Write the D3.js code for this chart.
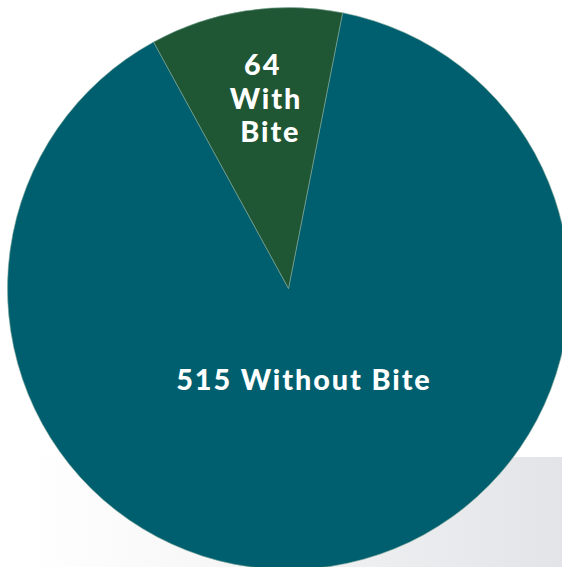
<!DOCTYPE html>
<html><head><meta charset="utf-8">
<script src="https://cdn.jsdelivr.net/npm/d3@7"></script>
<style>html,body{margin:0;padding:0;background:#fff;}svg{display:block;}</style>
</head><body>
<svg id="c" width="562" height="567"></svg>
<script>
const categories = ["Without Bite", "With Bite"];
const values = [515, 64];
const colors = ["#005f6e", "#1f5633"];

const svg = d3.select("#c");
const defs = svg.append("defs");
const g = defs.append("linearGradient").attr("id","bg").attr("x1","0").attr("x2","1").attr("y1","0").attr("y2","0");
g.append("stop").attr("offset","0").attr("stop-color","#ffffff");
g.append("stop").attr("offset","0.35").attr("stop-color","#f7f7f8");
g.append("stop").attr("offset","1").attr("stop-color","#e2e4e7");
svg.append("rect").attr("x",22).attr("y",457).attr("width",540).attr("height",110).attr("fill","url(#bg)");

const cx = 288.5, cy = 288.5, r = 281;
const startDeg = 11.1;
const pie = d3.pie().sort(null).value(d => d)
  .startAngle(startDeg*Math.PI/180).endAngle(startDeg*Math.PI/180 + 2*Math.PI);
const arcs = pie(values);
const arc = d3.arc().innerRadius(0).outerRadius(r);
const gp = svg.append("g").attr("transform",`translate(${cx},${cy})`);
gp.selectAll("path").data(arcs).join("path")
  .attr("d", arc).attr("fill", (d,i) => colors[i])
  .attr("stroke","#7fa79a").attr("stroke-width",0.6);

const font = "'Lato','Open Sans',sans-serif";
const ls = 1.9;
svg.append("text").attr("x",303 + ls/2).attr("y",389.8).attr("text-anchor","middle")
  .attr("font-family",font).attr("font-weight",900).attr("font-size",28.8)
  .attr("letter-spacing",ls)
  .attr("fill","#fff").text(values[0] + " " + categories[0]);

const lines = [String(values[1]), ...categories[1].split(" ")];
const ys = [74.8, 108.5, 142];
const xs = [261.7, 265, 269.4];
lines.forEach((t,i) => {
  svg.append("text").attr("x",xs[i] + ls/2).attr("y",ys[i]).attr("text-anchor","middle")
    .attr("font-family",font).attr("font-weight",900).attr("font-size",28.8)
    .attr("letter-spacing",ls)
    .attr("fill","#fff").text(t);
});
</script>
</body></html>
